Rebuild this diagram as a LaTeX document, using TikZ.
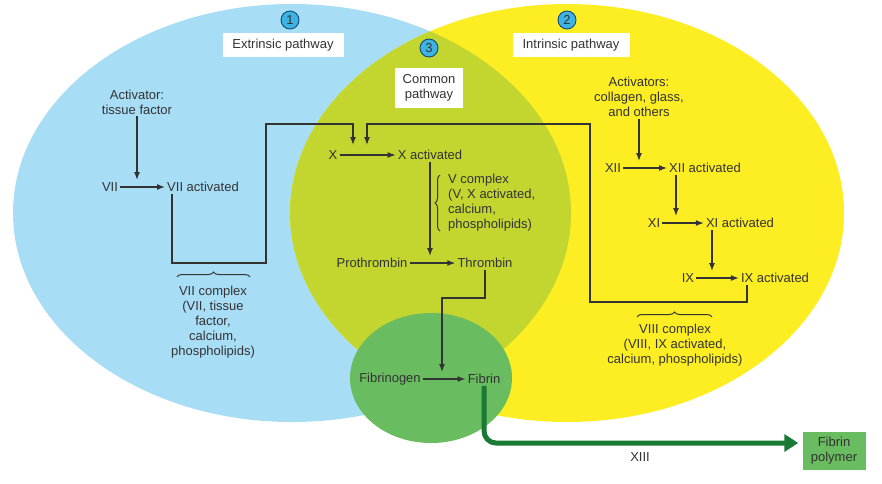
\documentclass[tikz,border=0pt]{standalone}
\usepackage{fontspec}
\setmainfont{Liberation Sans}
\usepackage{tikz}
\usetikzlibrary{positioning,arrows.meta,decorations.pathreplacing}
\definecolor{extblue}{HTML}{A8DDF6}
\definecolor{intyellow}{HTML}{FCEE23}
\definecolor{comolive}{HTML}{C3D52F}
\definecolor{fibgreen}{HTML}{69BC5F}
\definecolor{darkgreen}{HTML}{187A33}
\definecolor{numblue}{HTML}{3DB3E4}
\definecolor{numline}{HTML}{114A78}
\definecolor{inkgray}{HTML}{333333}

\begin{document}
\begin{tikzpicture}[x=1pt,y=-1pt,font=\fontsize{13}{15}\selectfont,text=inkgray]
\tikzstyle{txt}=[inner sep=2pt,align=center]
\tikzstyle{head}=[fill=white,inner sep=0pt,minimum height=24pt,align=center]
\tikzstyle{num}=[circle,draw=numline,fill=numblue,line width=.9pt,minimum size=18pt,inner sep=0pt]
\tikzstyle{arr}=[-{Latex[length=8pt,width=6pt]},draw=inkgray,line width=.45mm]
\tikzstyle{brc}=[decorate,decoration={brace,amplitude=5pt},draw=inkgray,line width=.35mm]
\tikzstyle{bigarr}=[-{Triangle[length=14pt,width=17pt]},draw=darkgreen,line width=5pt,rounded corners=12pt]
    \useasboundingbox (0,0) rectangle (882,483);
    % the three pathways
    \fill[extblue] (292,213) ellipse [x radius=279pt,y radius=209pt];
    \fill[intyellow] (567,213) ellipse [x radius=277pt,y radius=209pt];
    \begin{scope}
      \clip (567,213) ellipse [x radius=277pt,y radius=209pt];
      \fill[comolive] (292,213) ellipse [x radius=279pt,y radius=209pt];
    \end{scope}
    \fill[fibgreen] (431,378) ellipse [x radius=81pt,y radius=65pt];
    % headings
    \node[num] (n1) at (290,20) {1};
    \node[num] (n2) at (567,20) {2};
    \node[num] (n3) at (429,48) {3};
    \node[head,minimum width=121pt] (ext) at (283,45) {Extrinsic pathway};
    \node[head,minimum width=117pt] (int) at (571,45) {Intrinsic pathway};
    \node[head,minimum width=68pt,minimum height=40pt] (com) at (429,88) {Common\\pathway};
    % extrinsic
    \node[txt] (act7) at (137,102) {Activator:\\tissue factor};
    \node[txt] (vii) at (110,187) {VII};
    \node[txt] (viia) at (203,187) {VII activated};
    \draw[arr] (act7) -- (act7 |- viia.north);
    \draw[arr] (vii) -- (viia);
    \draw[brc] (177,277) -- (250,277);
    \node[txt] (viicx) at (213,322) {VII complex\\(VII, tissue\\factor,\\calcium,\\phospholipids)};
    % common
    \node[txt] (x) at (333,155) {X};
    \node[txt] (xa) at (430,155) {X activated};
    \node[txt] (pro) at (372,263) {Prothrombin};
    \node[txt] (thr) at (485,263) {Thrombin};
    \draw[arr] (x) -- (xa);
    \draw[arr] (xa) -- (xa |- thr.north);
    \draw[arr] (pro) -- (thr);
    \draw[brc] (440,231) -- (440,175);
    \node[txt,align=left,anchor=west] (vcx) at (446,203) {V complex\\(V, X activated,\\calcium,\\phospholipids)};
    \coordinate (xin1) at (353,145);
    \coordinate (xin2) at (367,145);
    % intrinsic
    \node[txt] (act12) at (639,97) {Activators:\\collagen, glass,\\and others};
    \node[txt] (xii) at (613,168) {XII};
    \node[txt] (xiia) at (705,168) {XII activated};
    \node[txt] (xi) at (654,223) {XI};
    \node[txt] (xia) at (740,223) {XI activated};
    \node[txt] (ix) at (688,278) {IX};
    \node[txt] (ixa) at (775,278) {IX activated};
    \draw[arr] (act12) -- (act12 |- xiia.north);
    \draw[arr] (xii) -- (xiia);
    \draw[arr] (xi) -- (xia);
    \draw[arr] (ix) -- (ixa);
    \draw[arr] ([xshift=-29pt]xiia.south) -- ([xshift=-29pt]xiia.south |- xia.north);
    \draw[arr] ([xshift=-28pt]xia.south) -- ([xshift=-28pt]xia.south |- ixa.north);
    \draw[brc] (637,317) -- (712,317);
    \node[txt] (viiicx) at (675,345) {VIII complex\\(VIII, IX activated,\\calcium, phospholipids)};
    % complexes into X
    \coordinate (c7a) at (172,263);
    \coordinate (c7b) at (266,124);
    \draw[arr] ([xshift=-31pt]viia.south) -- (c7a) -| (c7b) -| (xin1);
    \coordinate (c8a) at (747,302);
    \coordinate (c8b) at (590,124);
    \draw[arr] ([xshift=-28pt]ixa.south) -- (c8a) -| (c8b) -| (xin2);
    % fibrin
    \node[txt] (fbg) at (390,379) {Fibrinogen};
    \node[txt] (fib) at (484,379) {Fibrin};
    \draw[arr] (fbg) -- (fib);
    \coordinate (tbend) at (442,298);
    \draw[arr] (thr.south) |- (tbend) -- (tbend |- fib.north);
    \node[fill=fibgreen,minimum width=63pt,minimum height=38pt,inner sep=0pt,align=center] (poly) at (834,451) {Fibrin\\polymer};
    \draw[bigarr] (fib.south) |- ([xshift=-4pt,yshift=8pt]poly.west);
    \node[txt] (xiii) at (640,457) {XIII};
  \end{tikzpicture}
\end{document}
